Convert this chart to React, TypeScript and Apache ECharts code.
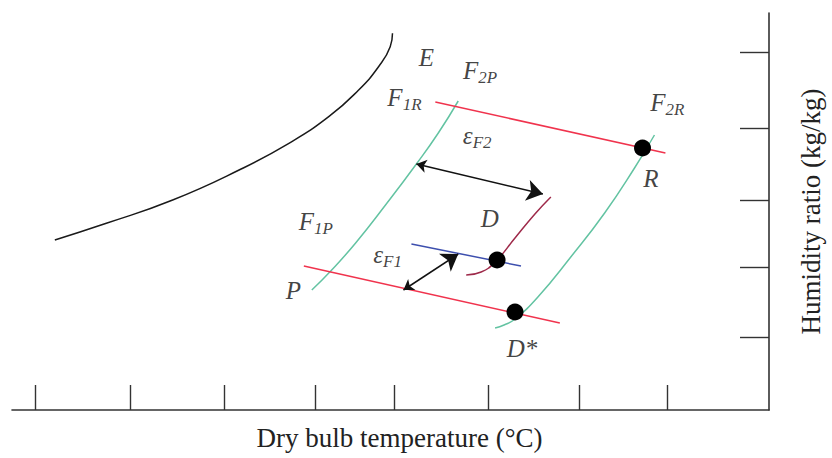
import React, { useEffect, useRef } from "react";
import * as echarts from "echarts";

// Axis ticks (arbitrary units, no labels on the original)
const xTicks = [2.3, 11.85, 21.35, 30.4, 38.4, 47.8, 56.9, 65.75];
const yTicks = [7.3, 14.3, 21.0, 28.2, 35.8];

// Saturation curve
const saturationCurve = [
  [4.3, 17.0], [9.47, 18.67], [16.13, 21.0], [22.8, 24.0], [27.8, 26.67],
  [31.8, 29.33], [34.8, 32.0], [36.8, 34.33], [37.97, 36.33], [38.2, 37.67],
];
// Process lines F1 and F2 (green)
const lineF1 = [
  [30.1, 12.0], [32.0, 13.9], [34.5, 16.7], [37.5, 20.5], [40.6, 24.6], [42.8, 27.7], [44.8, 30.9],
];
const lineF2 = [
  [48.5, 8.2], [49.4, 8.5], [50.5, 9.1], [52.8, 11.3], [56.1, 15.3], [59.5, 19.7], [62.5, 24.2], [64.5, 27.5],
];
// Red lines
const redUpper = [[42.5, 30.8], [65.6, 25.7]];
const redLower = [[29.3, 14.4], [55.0, 8.7]];
// Blue line
const blueLine = [[40.1, 16.6], [51.1, 14.4]];
// Maroon curve through D
const curveD = [
  [45.6, 13.5], [47.1, 13.8], [48.5, 14.8], [50.5, 17.2], [52.5, 19.6], [54.1, 21.3],
];
// State points R, D, D*
const statePoints = [[63.3, 26.2], [48.7, 15.0], [50.5, 9.8]];
// Double arrows (epsilon F2, epsilon F1)
const arrowF2 = [[40.6, 24.6], [53.3, 21.6]];
const arrowF1 = [[39.3, 12.0], [44.8, 15.6]];

// Annotation labels
const labelMain = ["E", "F", "F", "F", "ε", "R", "D", "F", "ε", "P", "D*"];
const labelSub = ["", "2P", "1R", "2R", "F2", "", "", "1P", "F1", "", ""];
const labelX = [41.6, 47.0, 39.4, 65.8, 46.7, 64.15, 47.97, 30.5, 37.7, 28.25, 51.2];
const labelY = [35.25, 33.95, 31.3, 30.8, 27.5, 23.15, 19.17, 18.9, 15.6, 12.0, 6.15];

const SERIF = '"Liberation Serif", "Times New Roman", serif';

export default function App() {
  const ref = useRef<HTMLDivElement>(null);
  useEffect(() => {
    if (!ref.current) return;
    const chart = echarts.init(ref.current, null, { renderer: "svg" });
    const lineSeries = (data: number[][], color: string, smooth = true) => ({
      type: "line",
      data,
      smooth,
      showSymbol: false,
      symbol: "none",
      lineStyle: { color, width: 1.5 },
      silent: true,
      z: 2,
    });
    const labelData = labelMain.map((m, i) => ({
      value: [labelX[i], labelY[i]],
      label: {
        formatter: labelSub[i] ? `{m|${m}}{s|${labelSub[i]}}` : `{m|${m}}`,
      },
    }));
    chart.setOption({
      animation: false,
      backgroundColor: "#ffffff",
      grid: { left: 12, right: 60, top: 13, bottom: 48 },
      xAxis: {
        type: "value",
        min: 0,
        max: 76,
        position: "bottom",
        axisLine: { show: true, onZero: false, lineStyle: { color: "#333", width: 1.6 } },
        axisTick: {
          show: true,
          inside: true,
          length: 25,
          customValues: xTicks,
          lineStyle: { color: "#333", width: 1.4 },
        },
        axisLabel: { show: false },
        splitLine: { show: false },
        name: "Dry bulb temperature (°C)",
        nameLocation: "middle",
        nameGap: 14,
        nameTextStyle: {
          fontFamily: SERIF,
          fontSize: 27,
          color: "#222",
          verticalAlign: "top",
          padding: [0, 0, 0, 18],
        },
      },
      yAxis: {
        type: "value",
        min: 0,
        max: 39.7,
        position: "right",
        axisLine: { show: true, onZero: false, lineStyle: { color: "#333", width: 1.6 } },
        axisTick: {
          show: true,
          inside: true,
          length: 29,
          customValues: yTicks,
          lineStyle: { color: "#333", width: 1.4 },
        },
        axisLabel: { show: false },
        splitLine: { show: false },
        name: "Humidity ratio (kg/kg)",
        nameLocation: "middle",
        nameRotate: 90,
        nameGap: 28,
        nameTextStyle: { fontFamily: SERIF, fontSize: 27, color: "#222" },
      },
      series: [
        lineSeries(saturationCurve, "#1a1a1a"),
        lineSeries(lineF1, "#63c3a2"),
        lineSeries(lineF2, "#63c3a2"),
        lineSeries(redUpper, "#f0334d", false),
        lineSeries(redLower, "#f0334d", false),
        lineSeries(blueLine, "#3d4fae", false),
        lineSeries(curveD, "#9e2a4a"),
        {
          type: "scatter",
          data: statePoints,
          symbolSize: 17,
          itemStyle: { color: "#000", opacity: 1 },
          silent: true,
          z: 4,
        },
        {
          type: "lines",
          coordinateSystem: "cartesian2d",
          data: [{ coords: arrowF2 }, { coords: arrowF1 }],
          symbol: ["arrow", "arrow"],
          symbolSize: [10, 16],
          lineStyle: { color: "#111", width: 1.5, opacity: 1 },
          silent: true,
          z: 3,
        },
        {
          type: "scatter",
          data: labelData,
          symbolSize: 0,
          silent: true,
          z: 5,
          label: {
            show: true,
            position: "inside",
            align: "center",
            verticalAlign: "middle",
            rich: {
              m: { fontFamily: SERIF, fontStyle: "italic", fontSize: 25, color: "#111", lineHeight: 26 },
              s: {
                fontFamily: SERIF,
                fontStyle: "italic",
                fontSize: 17,
                color: "#111",
                lineHeight: 18,
                padding: [14, 0, 0, 0],
              },
            },
          },
        },
      ],
    });
    return () => chart.dispose();
  }, []);
  return (
    <div
      ref={ref}
      style={{ position: "fixed", left: 0, top: 0, width: 832, height: 458, background: "#fff" }}
    />
  );
}
